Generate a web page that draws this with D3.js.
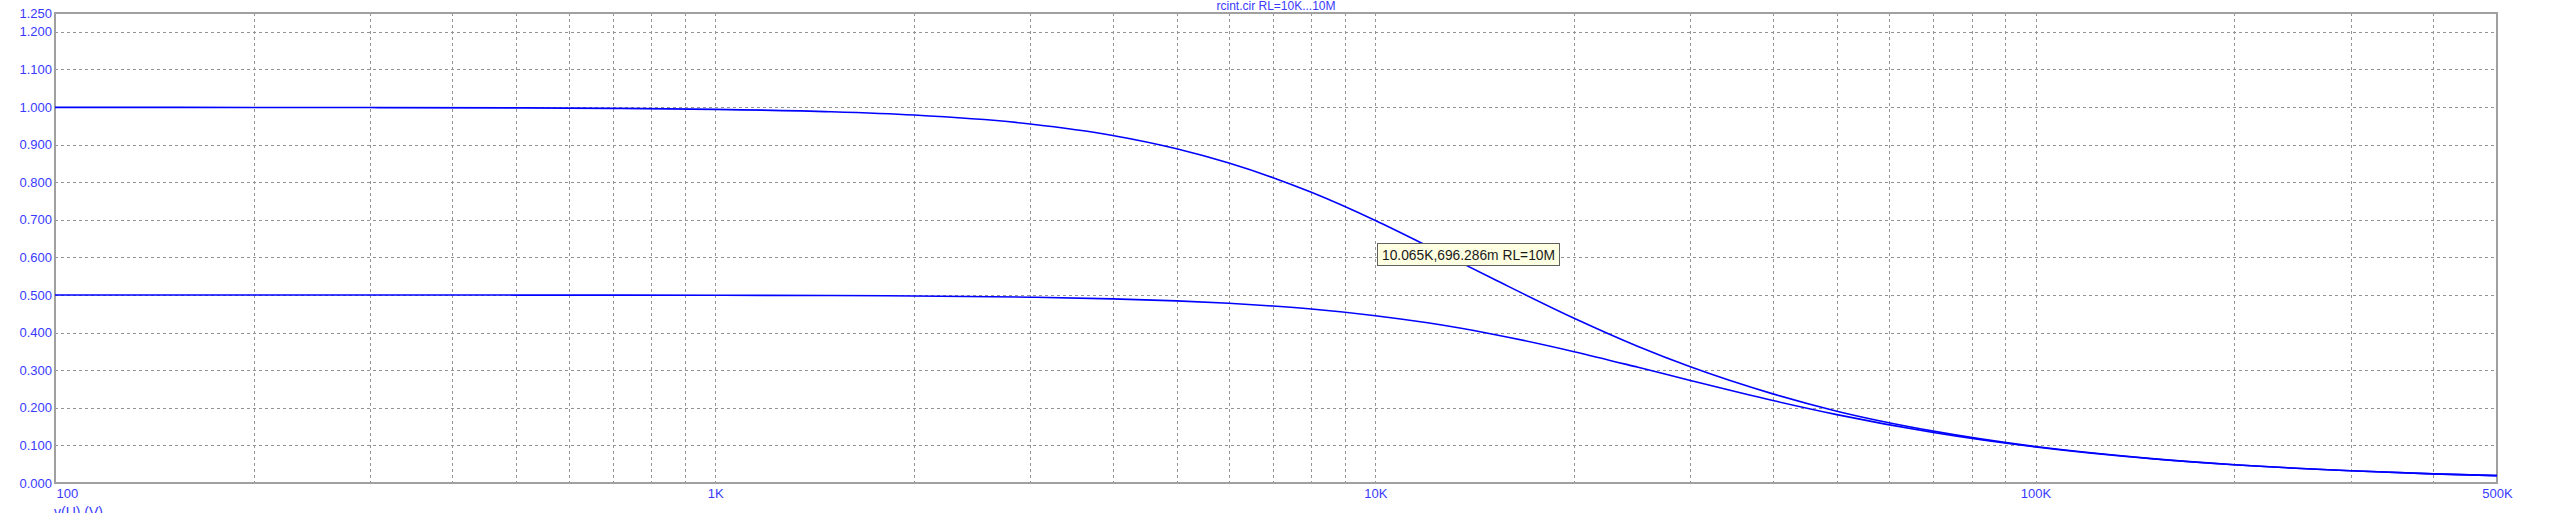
<!DOCTYPE html>
<html>
<head>
<meta charset="utf-8">
<script src="https://cdn.jsdelivr.net/npm/d3@7"></script>
<style>
html, body { margin: 0; padding: 0; background: #ffffff; overflow: hidden; }
svg { display: block; }
</style>
</head>
<body>
<script>
// ---- data ----
const titleText = "rcint.cir RL=10K...10M";
const yAxisName = "v(U) (V)";
const freqs = [100, 200, 300, 500, 700, 1000, 1500, 2000, 3000, 4000, 5000, 6000, 7000, 8000,
  10000, 12000, 15000, 20000, 25000, 30000, 40000, 50000, 70000, 100000, 150000, 200000,
  300000, 400000, 500000];
const seriesRL10M = [0.999, 0.9988, 0.9985, 0.9977, 0.9964, 0.9938, 0.9874, 0.9786, 0.9549, 0.9244,
  0.889, 0.851, 0.812, 0.773, 0.698, 0.630, 0.545, 0.438, 0.363, 0.309, 0.237, 0.191, 0.138,
  0.097, 0.0649, 0.0487, 0.0325, 0.0244, 0.0195];
const seriesRL10K = [0.5, 0.4999, 0.4999, 0.4998, 0.4997, 0.4994, 0.4985, 0.4974, 0.4942, 0.4898,
  0.4844, 0.4779, 0.4706, 0.4627, 0.445, 0.426, 0.3965, 0.3493, 0.3077, 0.2727, 0.2193, 0.1819,
  0.1343, 0.0958, 0.0645, 0.0486, 0.0325, 0.0244, 0.0195];
const xTickValues = [100, 1000, 10000, 100000, 500000];
const xTickLabels = ["100", "1K", "10K", "100K", "500K"];
const yTickValues = [0, 0.1, 0.2, 0.3, 0.4, 0.5, 0.6, 0.7, 0.8, 0.9, 1.0, 1.1, 1.2, 1.25];
const yTickLabels = ["0.000", "0.100", "0.200", "0.300", "0.400", "0.500", "0.600", "0.700",
  "0.800", "0.900", "1.000", "1.100", "1.200", "1.250"];
const yGridValues = [0.1, 0.2, 0.3, 0.4, 0.5, 0.6, 0.7, 0.8, 0.9, 1.0, 1.1, 1.2];
const xGridValues = [200, 300, 400, 500, 600, 700, 800, 900, 1000, 2000, 3000, 4000, 5000, 6000,
  7000, 8000, 9000, 10000, 20000, 30000, 40000, 50000, 60000, 70000, 80000, 90000, 100000,
  200000, 300000, 400000];
const cursorFreq = 10065;
const cursorVal = 0.696286;
const cursorText = "10.065K,696.286m RL=10M";

// ---- layout ----
const W = 2564, H = 530;
const L = 55, R = 2497, T = 13, B = 483;
const textBlue = "#3a3aff";

const svg = d3.select("body").append("svg").attr("width", W).attr("height", H);

const x = d3.scaleLog().domain([100, 500000]).range([L, R]);
const y = d3.scaleLinear().domain([0, 1.25]).range([B, T]);

// grid
const grid = svg.append("g").attr("stroke", "#949494").attr("stroke-width", 1)
  .attr("stroke-dasharray", "3,3").attr("shape-rendering", "crispEdges");
grid.selectAll("line.h").data(yGridValues).enter().append("line")
  .attr("x1", L).attr("x2", R)
  .attr("y1", d => Math.round(y(d)) + 0.5).attr("y2", d => Math.round(y(d)) + 0.5);
grid.selectAll("line.v").data(xGridValues).enter().append("line")
  .attr("y1", T).attr("y2", B)
  .attr("x1", d => Math.round(x(d)) + 0.5).attr("x2", d => Math.round(x(d)) + 0.5);

// frame
svg.append("rect").attr("x", L).attr("y", T).attr("width", R - L).attr("height", B - T)
  .attr("fill", "none").attr("stroke", "#a0a0a0").attr("stroke-width", 2);

// curves
const line = d3.line().x(d => x(d[0])).y(d => y(d[1])).curve(d3.curveMonotoneX);
[seriesRL10M, seriesRL10K].forEach(s => {
  svg.append("path").datum(freqs.map((f, i) => [f, s[i]]))
    .attr("d", line).attr("fill", "none").attr("stroke", "#0000ff").attr("stroke-width", 1.6);
});

// y axis labels
const yAxis = d3.axisLeft(y).tickValues(yTickValues)
  .tickFormat((d, i) => yTickLabels[i]).tickSize(0).tickPadding(3);
const gy = svg.append("g").attr("transform", `translate(${L},0)`).call(yAxis);
gy.select(".domain").remove();
gy.selectAll("text").attr("fill", textBlue).style("font-family", "'Liberation Sans', Arial, sans-serif")
  .style("font-size", "13px");

// x axis labels
const xAxis = d3.axisBottom(x).tickValues(xTickValues)
  .tickFormat((d, i) => xTickLabels[i]).tickSize(0).tickPadding(6);
const gx = svg.append("g").attr("transform", `translate(0,${B})`).call(xAxis);
gx.select(".domain").remove();
gx.selectAll("text").attr("fill", textBlue).style("font-family", "'Liberation Sans', Arial, sans-serif")
  .style("font-size", "13px")
  .attr("text-anchor", (d, i) => i === 0 ? "start" : "middle")
  .attr("dx", (d, i) => i === 0 ? 1 : 0);

// title
svg.append("text").attr("x", (L + R) / 2).attr("y", 10).attr("text-anchor", "middle")
  .attr("fill", textBlue).style("font-family", "'Liberation Sans', Arial, sans-serif")
  .style("font-size", "12px").text(titleText);

// y-axis name (cut at the bottom)
svg.append("clipPath").attr("id", "bclip").append("rect")
  .attr("x", 0).attr("y", 0).attr("width", W).attr("height", 513);
svg.append("text").attr("x", L - 1).attr("y", 517).attr("clip-path", "url(#bclip)")
  .attr("fill", textBlue).style("font-family", "'Liberation Sans', Arial, sans-serif")
  .style("font-size", "14px").text(yAxisName);

// cursor tooltip
const tx = x(cursorFreq), ty = y(cursorVal);
const tip = svg.append("g").attr("transform", `translate(${Math.round(tx)},${Math.round(ty) + 22})`);
tip.append("rect").attr("x", 0.5).attr("y", 0.5).attr("width", 182).attr("height", 22)
  .attr("fill", "#ffffe1").attr("stroke", "#606060").attr("stroke-width", 1);
tip.append("text").attr("x", 5).attr("y", 16.5).attr("fill", "#1a1a1a")
  .style("font-family", "'Liberation Sans', Arial, sans-serif").style("font-size", "13.8px")
  .text(cursorText);
</script>
</body>
</html>
